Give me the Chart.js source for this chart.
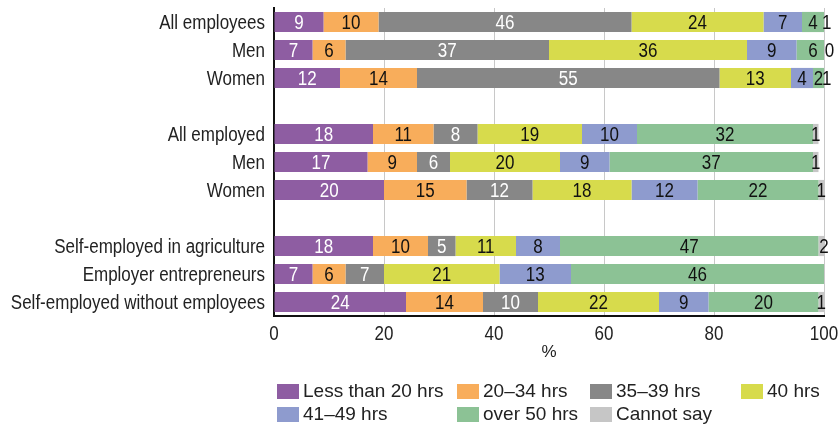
<!DOCTYPE html>
<html>
<head>
<meta charset="utf-8">
<script src="https://cdn.jsdelivr.net/npm/chart.js@4.4.0/dist/chart.umd.min.js"></script>
<style>
  html, body { margin: 0; padding: 0; background: #fff; }
  #wrap { position: relative; width: 839px; height: 427px; }
  #legend {
    position: absolute; left: 277px; top: 381px;
    display: grid; grid-template-columns: 180px 133px 151px auto;
    row-gap: 3px;
    font-family: "Liberation Sans", Arial, sans-serif;
    font-size: 19px; color: #222; line-height: 20px;
  }
  .item { display: flex; align-items: center; white-space: nowrap; }
  .box { width: 22px; height: 15px; margin-right: 4px; flex-shrink: 0; }
</style>
</head>
<body>
<div id="wrap">
  <canvas id="chart" width="839" height="427"></canvas>
  <div id="legend"></div>
</div>
<script>
// hours worked per week, % of each group
const categories = [
  "All employees", "Men", "Women", "",
  "All employed", "Men", "Women", "",
  "Self-employed in agriculture", "Employer entrepreneurs", "Self-employed without employees"
];
const seriesNames = ["Less than 20 hrs", "20–34 hrs", "35–39 hrs", "40 hrs", "41–49 hrs", "over 50 hrs", "Cannot say"];
const under20 = [9, 7, 12, null, 18, 17, 20, null, 18, 7, 24];
const h20to34 = [10, 6, 14, null, 11, 9, 15, null, 10, 6, 14];
const h35to39 = [46, 37, 55, null, 8, 6, 12, null, 5, 7, 10];
const h40 = [24, 36, 13, null, 19, 20, 18, null, 11, 21, 22];
const h41to49 = [7, 9, 4, null, 10, 9, 12, null, 8, 13, 9];
const over50 = [4, 6, 2, null, 32, 37, 22, null, 47, 46, 20];
const cannotSay = [1, 0, 1, null, 1, 1, 1, null, 2, null, 1];
const xTicks = [0, 20, 40, 60, 80, 100];

const colors = ["#8E5DA2", "#F8AD5B", "#878787", "#D7DB4C", "#8E9BCE", "#8CC295", "#C6C6C6"];
const labelColors = ["#fff", "#111", "#fff", "#111", "#111", "#111", "#111"];
const seriesData = [under20, h20to34, h35to39, h40, h41to49, over50, cannotSay];

// no narrow font installed, so squeeze Liberation Sans a bit
const FONT = "20px 'Liberation Sans', Arial, sans-serif";
const SQUEEZE = 0.85;

function narrowText(ctx, text, x, y, align, color) {
  ctx.save();
  ctx.translate(x, y);
  ctx.scale(SQUEEZE, 1);
  ctx.font = FONT;
  ctx.textAlign = align;
  ctx.textBaseline = "middle";
  ctx.fillStyle = color;
  ctx.fillText(text, 0, 0);
  ctx.restore();
}

const textPlugin = {
  id: "textPlugin",
  afterDatasetsDraw(chart) {
    const ctx = chart.ctx;
    // numbers in the middle of each segment
    chart.data.datasets.forEach((ds, i) => {
      const meta = chart.getDatasetMeta(i);
      meta.data.forEach((bar, j) => {
        const v = ds.data[j];
        if (v === null || v === undefined) return;
        narrowText(ctx, String(v), (bar.x + bar.base) / 2, bar.y + 1, "center", labelColors[i]);
      });
    });
  },
  afterDraw(chart) {
    const ctx = chart.ctx;
    const area = chart.chartArea;
    const yScale = chart.scales.y;
    const xScale = chart.scales.x;
    categories.forEach((c, i) => {
      if (!c) return;
      narrowText(ctx, c, area.left - 9, yScale.getPixelForTick(i) + 1, "right", "#222");
    });
    xTicks.forEach((v) => {
      narrowText(ctx, String(v), xScale.getPixelForValue(v), area.bottom + 18, "center", "#222");
    });
  },
};

const chart = new Chart(document.getElementById("chart"), {
  type: "bar",
  data: {
    labels: categories,
    datasets: seriesNames.map((name, i) => ({
      label: name,
      data: seriesData[i],
      backgroundColor: colors[i],
      borderWidth: 0,
      categoryPercentage: 1,
      barPercentage: 0.72,
    })),
  },
  options: {
    indexAxis: "y",
    responsive: false,
    animation: false,
    layout: { padding: { top: 8, right: 15, left: 0, bottom: 0 } },
    plugins: { legend: { display: false }, tooltip: { enabled: false } },
    scales: {
      x: {
        stacked: true,
        min: 0,
        max: 100,
        afterBuildTicks: (scale) => {
          scale.ticks = xTicks.map((v) => ({ value: v }));
        },
        afterFit: (scale) => {
          scale.height = 111;
        },
        grid: { color: "#c8c8c8", lineWidth: 1, drawTicks: false },
        border: { display: true, color: "#111", width: 2 },
        ticks: { display: false },
        title: {
          display: true,
          text: "%",
          font: { family: "'Liberation Sans', Arial, sans-serif", size: 17 },
          color: "#222",
          padding: { top: 0, bottom: 64 },
        },
      },
      y: {
        stacked: true,
        afterFit: (scale) => {
          scale.width = 274;
        },
        grid: { display: false },
        border: { display: true, color: "#111", width: 2 },
        ticks: { display: false, autoSkip: false },
      },
    },
  },
  plugins: [textPlugin],
});

// legend laid out in columns like the original
const legend = document.getElementById("legend");
seriesNames.forEach((name, i) => {
  const item = document.createElement("div");
  item.className = "item";
  item.innerHTML = `<span class="box" style="background:${colors[i]}"></span><span>${name}</span>`;
  legend.appendChild(item);
});
</script>
</body>
</html>
